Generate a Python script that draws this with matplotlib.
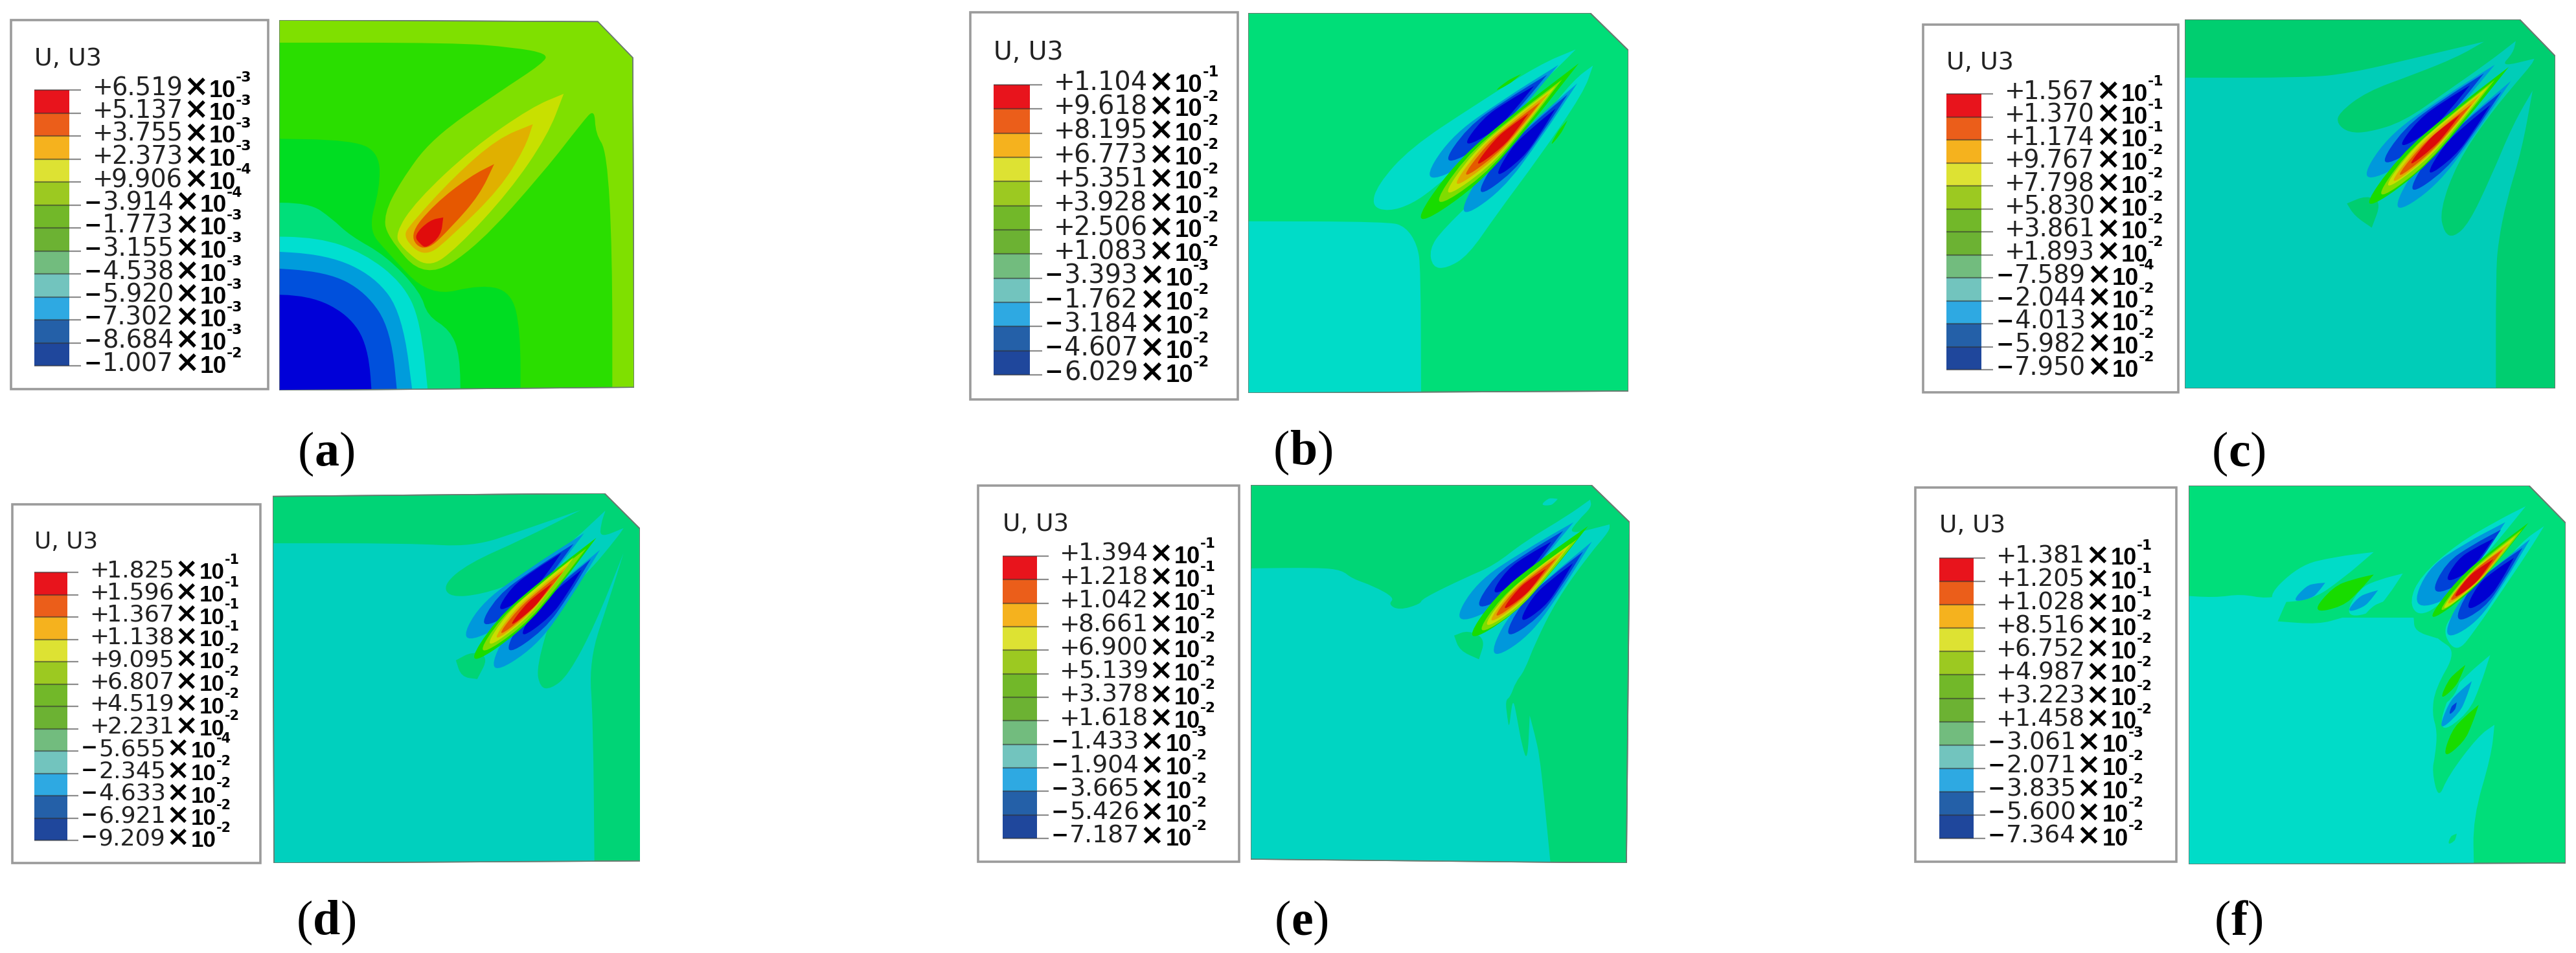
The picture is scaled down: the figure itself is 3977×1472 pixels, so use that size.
import matplotlib
matplotlib.use("Agg")
import matplotlib.pyplot as plt
import numpy as np
from matplotlib.path import Path
from matplotlib.patches import PathPatch, Rectangle, Polygon

W, H = 3977, 1472

# legend values
values_a = ['+6.519', '+5.137', '+3.755', '+2.373', '+9.906', '-3.914', '-1.773', '-3.155', '-4.538', '-5.920', '-7.302', '-8.684', '-1.007']
expo_a = [-3, -3, -3, -3, -4, -4, -3, -3, -3, -3, -3, -3, -2]
values_b = ['+1.104', '+9.618', '+8.195', '+6.773', '+5.351', '+3.928', '+2.506', '+1.083', '-3.393', '-1.762', '-3.184', '-4.607', '-6.029']
expo_b = [-1, -2, -2, -2, -2, -2, -2, -2, -3, -2, -2, -2, -2]
values_c = ['+1.567', '+1.370', '+1.174', '+9.767', '+7.798', '+5.830', '+3.861', '+1.893', '-7.589', '-2.044', '-4.013', '-5.982', '-7.950']
expo_c = [-1, -1, -1, -2, -2, -2, -2, -2, -4, -2, -2, -2, -2]
values_d = ['+1.825', '+1.596', '+1.367', '+1.138', '+9.095', '+6.807', '+4.519', '+2.231', '-5.655', '-2.345', '-4.633', '-6.921', '-9.209']
expo_d = [-1, -1, -1, -1, -2, -2, -2, -2, -4, -2, -2, -2, -2]
values_e = ['+1.394', '+1.218', '+1.042', '+8.661', '+6.900', '+5.139', '+3.378', '+1.618', '-1.433', '-1.904', '-3.665', '-5.426', '-7.187']
expo_e = [-1, -1, -1, -2, -2, -2, -2, -2, -3, -2, -2, -2, -2]
values_f = ['+1.381', '+1.205', '+1.028', '+8.516', '+6.752', '+4.987', '+3.223', '+1.458', '-3.061', '-2.071', '-3.835', '-5.600', '-7.364']
expo_f = [-1, -1, -1, -2, -2, -2, -2, -2, -3, -2, -2, -2, -2]

band_colors = ['#E8141C', '#EB5E1A', '#F5B21E', '#DDE233', '#9CC921', '#72B829', '#6CB233',
               '#72BC7E', '#72C4BE', '#2EA9E2', '#2460A8', '#1F479C']

# contour colours, deep blue to red; 3 and 4 change from panel to panel
levels = ['#0000D2', '#0042D8', '#0098DC', None, None, '#18DC00', '#80DC00', '#C8DE00', '#E0A800', '#E45A00', '#DC0A0A']

# outlines are in the frame they were read in (see limits in the panel tables)
plate_a = [(614, 63), (1315, 68), (1392, 183), (1395, 1233), (614, 1243)]
regions_a = [
    ('#7FE000', [(560, 0), (560, 0), (1500, 0), (1500, 0), (1500, 1300), (1500, 1300), (560, 1300), (560, 1300)]),
    ('#2ADE00', [(560, 135), (560, 135), (1000, 135), (1130, 150), (1205, 170), (1195, 200), (1100, 290), (950, 440), (880, 580), (845, 680), (850, 750), (935, 890), (1050, 785), (1200, 540), (1280, 390), (1308, 345), (1310, 425), (1335, 480), (1347, 800), (1347, 1300), (1347, 1300), (560, 1300), (560, 1300)]),
    ('#00DD22', [(560, 440), (560, 440), (780, 445), (835, 490), (835, 600), (810, 730), (850, 800), (945, 945), (1060, 905), (1125, 930), (1145, 1050), (1145, 1300), (1145, 1300), (560, 1300), (560, 1300)]),
    ('#00DF7A', [(560, 645), (560, 645), (680, 645), (730, 695), (770, 750), (850, 815), (925, 930), (940, 1005), (990, 1050), (1012, 1130), (1013, 1300), (1013, 1300), (560, 1300), (560, 1300)]),
    ('#00DFD0', [(560, 752), (560, 752), (700, 755), (800, 805), (885, 900), (925, 1020), (945, 1300), (945, 1300), (560, 1300), (560, 1300)]),
    ('#009CDC', [(560, 797), (560, 797), (720, 810), (825, 880), (885, 1000), (912, 1300), (912, 1300), (560, 1300), (560, 1300)]),
    ('#0050DC', [(560, 850), (560, 850), (720, 865), (805, 930), (860, 1050), (877, 1300), (877, 1300), (560, 1300), (560, 1300)]),
    ('#0000D8', [(560, 937), (560, 937), (680, 940), (765, 1000), (810, 1100), (820, 1300), (820, 1300), (560, 1300), (560, 1300)]),
    ('#C8E000', [(1240, 298), (1240, 298), (1170, 340), (1040, 470), (915, 640), (868, 745), (885, 790), (942, 855), (1005, 790), (1120, 610), (1205, 430)]),
    ('#E0B000', [(1172, 395), (1172, 395), (1095, 440), (1000, 560), (905, 710), (885, 755), (935, 822), (995, 750), (1100, 600), (1155, 470)]),
    ('#E65800', [(1087, 522), (1087, 522), (1035, 560), (955, 650), (898, 750), (935, 805), (995, 720), (1055, 620)]),
    ('#E00C0C', [(975, 692), (975, 692), (945, 700), (910, 750), (925, 778), (938, 790), (970, 750)]),
]

plate_b = [(-549, -90), (1035, -90), (1212, 84), (1212, 1671), (-549, 1680)]
regions_b = [
    (3, [(-600, 880), (-600, 880), (100, 882), (180, 905), (235, 990), (250, 1100), (252, 1700), (252, 1700), (-600, 1700), (-600, 1700)]),
    (3, [(968, 80), (968, 80), (800, 150), (500, 340), (200, 540), (50, 710), (22, 810), (100, 835), (210, 800), (320, 720), (430, 620), (600, 440), (890, 160)]),
    (3, [(1048, 155), (1048, 155), (960, 220), (800, 420), (600, 680), (350, 920), (290, 1010), (305, 1095), (370, 1100), (470, 1040), (600, 850), (800, 580), (1005, 280)]),
]
lobes_b = [
    (2, 280, 685, 888, 152, 72, .25), (1, 362, 610, 835, 198, 54, .3), (0, 450, 530, 775, 250, 38, .35),
    (2, 440, 850, 975, 238, 62, .25), (1, 515, 760, 930, 290, 48, .3), (0, 597, 675, 875, 355, 34, .35),
    (5, 225, 895, 982, 145, 70, .3), (6, 315, 810, 905, 220, 58, .3), (7, 355, 768, 875, 250, 48, .33),
    (8, 395, 728, 845, 282, 40, .36), (9, 440, 683, 805, 325, 31, .38), (10, 497, 630, 750, 378, 24, .45),
    (5, 592, 275, 715, 195, 8, .5), (5, 850, 530, 930, 410, 8, .5),
]

plate_c = [(-561, 15), (990, 15), (1155, 185), (1155, 1725), (-561, 1725)]
regions_c = [
    (3, [(-600, 285), (-600, 285), (0, 285), (200, 265), (500, 195), (825, 118), (825, 118), (700, 190), (500, 270), (280, 350), (150, 450), (145, 500), (200, 540), (290, 538), (450, 490), (650, 350), (850, 210), (972, 115), (972, 115), (960, 170), (900, 235), (1058, 197), (1058, 197), (1045, 225), (980, 300), (840, 470), (700, 680), (620, 900), (640, 1005), (685, 1025), (755, 960), (855, 750), (960, 500), (1050, 345), (1050, 345), (1000, 620), (930, 850), (890, 1050), (880, 1200), (880, 1760), (880, 1760), (-600, 1760), (-600, 1760)]),
    (4, [(190, 868), (190, 868), (280, 830), (350, 860), (305, 980), (305, 980), (225, 925)]),
]
lobes_c = [
    (2, 270, 755, 875, 225, 72, .25), (1, 350, 690, 825, 265, 55, .3), (0, 430, 610, 760, 320, 36, .35),
    (2, 415, 900, 950, 300, 62, .25), (1, 480, 820, 905, 350, 50, .3), (0, 560, 740, 855, 410, 34, .35),
    (5, 270, 892, 940, 235, 58, .3), (6, 330, 845, 875, 295, 48, .3), (7, 360, 805, 845, 325, 40, .33),
    (8, 385, 785, 810, 360, 32, .36), (9, 415, 755, 770, 405, 25, .38), (10, 470, 700, 715, 455, 20, .45),
]

plate_d = [(600, 58), (1330, 48), (1408, 165), (1410, 1263), (603, 1270)]
regions_d = [
    (3, [(560, 213), (560, 213), (900, 213), (1040, 225), (1150, 170), (1278, 103), (1278, 103), (1150, 200), (1030, 280), (975, 350), (990, 392), (1060, 382), (1140, 340), (1250, 220), (1332, 105), (1332, 105), (1322, 150), (1320, 195), (1372, 163), (1372, 163), (1360, 190), (1300, 300), (1220, 420), (1180, 620), (1188, 690), (1212, 695), (1250, 650), (1310, 480), (1372, 245), (1372, 245), (1340, 400), (1296, 600), (1305, 800), (1308, 1300), (1308, 1300), (560, 1300), (560, 1300)]),
    (4, [(1003, 600), (1003, 600), (1040, 570), (1075, 590), (1050, 662), (1050, 662), (1015, 655)]),
]
lobes_d = [
    (2, 1023, 535, 1285, 180, 42, .25), (1, 1060, 490, 1262, 215, 32, .3), (0, 1095, 440, 1235, 245, 22, .35),
    (2, 1085, 635, 1320, 235, 38, .25), (1, 1115, 578, 1300, 265, 29, .3), (0, 1145, 525, 1280, 300, 20, .35),
    (5, 1035, 610, 1312, 195, 32, .3), (6, 1055, 580, 1290, 230, 27, .3), (7, 1070, 558, 1262, 260, 22, .33),
    (8, 1085, 538, 1250, 285, 17, .36), (9, 1095, 522, 1240, 305, 13, .38), (10, 1120, 490, 1215, 345, 10, .45),
]

plate_e = [(-567, -33), (1010, -33), (1188, 140), (1173, 1719), (-567, 1701)]
regions_e = [
    (3, [(-600, 354), (-600, 354), (-250, 350), (-144, 362), (-100, 400), (0, 435), (100, 490), (70, 520), (120, 548), (220, 518), (225, 495), (430, 395), (560, 340), (700, 230), (900, 110), (1005, 35), (1005, 35), (1012, 70), (950, 130), (900, 200), (1095, 150), (1095, 150), (1095, 180), (1000, 290), (850, 500), (750, 700), (700, 830), (660, 880), (635, 950), (612, 965), (622, 1050), (630, 1095), (640, 1000), (650, 965), (665, 1040), (690, 1180), (715, 1250), (725, 1035), (725, 1035), (750, 1130), (770, 1220), (790, 1400), (825, 1760), (825, 1760), (-600, 1760), (-600, 1760)]),
    (4, [(375, 665), (375, 665), (440, 640), (520, 680), (490, 775), (490, 775), (400, 735)]),
]
lobes_e = [
    (3, 778, 60, 855, 32, 16, .5),
    (2, 390, 595, 928, 140, 72, .25), (1, 478, 540, 880, 180, 54, .3), (0, 550, 475, 825, 230, 38, .35),
    (2, 552, 760, 1013, 230, 64, .25), (1, 615, 672, 972, 276, 50, .3), (0, 680, 605, 925, 330, 35, .35),
    (5, 440, 685, 995, 158, 58, .3), (6, 487, 655, 945, 218, 46, .3), (7, 510, 632, 915, 240, 40, .33),
    (8, 530, 612, 885, 270, 33, .36), (9, 555, 588, 850, 305, 26, .38), (10, 595, 552, 800, 355, 21, .45),
]

plate_f = [(-543, 15), (1035, 15), (1205, 165), (1205, 1530), (-543, 1535)]
regions_f = [
    (3, [(-600, 455), (-600, 455), (-420, 465), (-300, 450), (-180, 470), (-70, 445), (-100, 500), (-130, 560), (-130, 560), (60, 572), (170, 545), (170, 545), (500, 545), (500, 545), (610, 630), (700, 680), (600, 830), (585, 930), (610, 1000), (600, 1100), (585, 1160), (615, 1275), (660, 1180), (800, 1020), (875, 975), (875, 975), (860, 1100), (775, 1350), (780, 1560), (780, 1560), (-600, 1560), (-600, 1560)]),
    (4, [(500, 540), (500, 540), (505, 600), (610, 628), (610, 628), (640, 540)]),
    (3, [(1020, 98), (1020, 98), (900, 150), (700, 250), (530, 380), (480, 480), (520, 540), (620, 500), (850, 280)]),
    (3, [(1105, 178), (1105, 178), (1000, 240), (850, 400), (700, 510), (630, 600), (700, 690), (790, 590), (900, 450), (1040, 270)]),
]
lobes_f = [
    (3, -180, 475, 315, 282, 70, .35), (2, -60, 480, 90, 405, 26, .5), (5, 38, 520, 315, 372, 42, .4),
    (3, 190, 535, 450, 368, 55, .35), (2, 192, 522, 335, 435, 22, .45), (4, 265, 545, 395, 470, 16, .4),
    (2, 510, 495, 925, 162, 75, .25), (1, 590, 445, 905, 192, 52, .3), (0, 648, 400, 870, 228, 34, .35),
    (2, 650, 622, 1040, 230, 58, .25), (1, 697, 560, 1005, 265, 50, .3), (0, 745, 515, 965, 305, 36, .35),
    (5, 565, 560, 1032, 165, 38, .35), (6, 605, 535, 1005, 190, 30, .4), (7, 620, 525, 975, 215, 26, .4),
    (8, 640, 505, 945, 245, 24, .42), (9, 655, 490, 915, 270, 22, .45), (10, 680, 470, 870, 310, 20, .45),
    (3, 625, 1000, 855, 695, 55, .35), (4, 590, 920, 740, 730, 38, .4), (5, 625, 872, 740, 735, 20, .45),
    (2, 620, 995, 770, 800, 30, .45), (1, 665, 935, 700, 885, 10, .5),
    (5, 640, 1105, 802, 895, 34, .4), (4, 660, 1455, 700, 1412, 12, .5),
]

# plate box x0, y0, x1, y1 in image pixels, data limits, colours 3 and 4
panels = [
    dict(box=(431, 31, 979, 603), xlim=(614, 1395), ylim=(1243, 63), plate=plate_a, regions=regions_a, lobes=[], cyan='#00DFD0', base='#7FE000',
         legend=(17, 31, 414, 601), bar=(53, 139, 107, 565), title_y=91, vals=values_a, exps=expo_a, cap='a', cap_xy=(504, 693)),
    dict(box=(1927, 20, 2514, 607), xlim=(-549, 1212), ylim=(1680, -90), plate=plate_b, regions=regions_b, lobes=lobes_b, cyan='#00DCC8', base='#00DE78',
         legend=(1498, 19, 1911, 617), bar=(1534, 131, 1590, 579), title_y=81, vals=values_b, exps=expo_b, cap='b', cap_xy=(2012, 691)),
    dict(box=(3373, 30, 3945, 600), xlim=(-561, 1155), ylim=(1725, 15), plate=plate_c, regions=regions_c, lobes=lobes_c, cyan='#00CDB8', base='#00CE70',
         legend=(2969, 38, 3363, 606), bar=(3005, 145, 3059, 571), title_y=97, vals=values_c, exps=expo_c, cap='c', cap_xy=(3457, 693)),
    dict(box=(421, 762, 988, 1333), xlim=(600, 1408), ylim=(1270, 48), plate=plate_d, regions=regions_d, lobes=lobes_d, cyan='#00D0BE', base='#00D476',
         legend=(19, 779, 402, 1333), bar=(53, 884, 104, 1298), title_y=837, vals=values_d, exps=expo_d, cap='d', cap_xy=(504, 1417)),
    dict(box=(1931, 749, 2516, 1333), xlim=(-567, 1188), ylim=(1719, -33), plate=plate_e, regions=regions_e, lobes=lobes_e, cyan='#00D5C2', base='#00D676',
         legend=(1510, 750, 1913, 1331), bar=(1548, 859, 1601, 1295), title_y=810, vals=values_e, exps=expo_e, cap='e', cap_xy=(2010, 1417)),
    dict(box=(3379, 750, 3961, 1335), xlim=(-543, 1205), ylim=(1535, 15), plate=plate_f, regions=regions_f, lobes=lobes_f, cyan='#00DCC8', base='#00DE7A',
         legend=(2957, 753, 3360, 1331), bar=(2994, 862, 3047, 1295), title_y=812, vals=values_f, exps=expo_f, cap='f', cap_xy=(3457, 1417)),
]

cap_width = {'a': .5, 'b': .556, 'c': .444, 'd': .556, 'e': .444, 'f': .333}


def px(v):
    return v * 0.72


def blob(points):
    # closed quadratic spline through midpoints, a doubled point stays sharp
    p = np.array(points, dtype=float)
    mids = (p + np.roll(p, -1, axis=0)) / 2
    verts = [mids[-1]]
    codes = [Path.MOVETO]
    for i in range(len(p)):
        verts += [p[i], mids[i]]
        codes += [Path.CURVE3, Path.CURVE3]
    return Path(verts, codes)


def lens_points(ax0, ay0, bx, by, w, f):
    a, b = np.array([ax0, ay0], float), np.array([bx, by], float)
    d = b - a
    n = np.array([-d[1], d[0]]) / np.hypot(*d)
    a2 = a - d * 0.05
    p1 = a + d * f
    p2 = a + d * (f + 1) / 2
    return [a2, p1 + n * w * 1.1, p2 + n * w * .68, b, b, p2 - n * w * .68, p1 - n * w * 1.1]


fig = plt.figure(figsize=(W / 100, H / 100), dpi=100, facecolor='white')
ax = fig.add_axes([0, 0, 1, 1])
ax.set_xlim(0, W)
ax.set_ylim(H, 0)
ax.axis('off')

for pn in panels:
    # contour plate
    x0, y0, x1, y1 = pn['box']
    pax = fig.add_axes([x0 / W, 1 - y1 / H, (x1 - x0) / W, (y1 - y0) / H])
    pax.set_xlim(*pn['xlim'])
    pax.set_ylim(*pn['ylim'])
    pax.axis('off')
    plate = Polygon(pn['plate'], closed=True, facecolor=pn['base'], edgecolor='#6a7a70', lw=1.2)
    pax.add_patch(plate)
    colors = list(levels)
    colors[3] = pn['cyan']
    colors[4] = pn['base']
    for lev, pts in pn['regions']:
        col = lev if isinstance(lev, str) else colors[lev]
        patch = PathPatch(blob(pts), facecolor=col, edgecolor='none', lw=0)
        pax.add_patch(patch)
        patch.set_clip_path(plate)
    for lev, a0, a1, b0, b1, w, f in pn['lobes']:
        patch = PathPatch(blob(lens_points(a0, a1, b0, b1, w, f)), facecolor=colors[lev], edgecolor='none', lw=0)
        pax.add_patch(patch)
        patch.set_clip_path(plate)
    edge = Polygon(pn['plate'], closed=True, facecolor='none', edgecolor='#6a7a70', lw=1.2)
    pax.add_patch(edge)

    # legend
    lx0, ly0, lx1, ly1 = pn['legend']
    ax.add_patch(Rectangle((lx0, ly0), lx1 - lx0, ly1 - ly0, facecolor='white', edgecolor='#9b9b9b', lw=2.6))
    bx0, by0, bx1, by1 = pn['bar']
    s = (bx1 - bx0) / 54
    step = (by1 - by0) / 12
    ax.text(bx0, pn['title_y'], 'U, U3', fontsize=px(38 * s), color='#222222', ha='left', va='center', family='DejaVu Sans')
    for i, col in enumerate(band_colors):
        ax.bar(bx0, step, width=bx1 - bx0, bottom=by0 + i * step, align='edge', color=col, edgecolor='none')
    for i in range(13):
        ty = by0 + i * step
        ax.plot([bx0, bx1], [ty, ty], color='#303030', alpha=.55, lw=1.6, solid_capstyle='butt')
        ax.plot([bx1, bx1 + 18 * s], [ty, ty], color='#8c8c8c', lw=1.6, solid_capstyle='butt')
        val, ex = pn['vals'][i], pn['exps'][i]
        if val[0] == '+':
            shift = 0
            ax.text(bx1 + 36 * s, ty - 3, '+', fontsize=px(38 * s), color='#222222', ha='left', va='center')
        else:
            shift = -14 * s
            ax.text(bx1 + 22 * s, ty - 4, '\u2212', fontsize=px(33 * s), color='black', ha='left', va='center', weight='bold')
        ax.text(bx1 + (65 * s + shift), ty - 3, val[1:], fontsize=px(38.5 * s), color='#222222', ha='left', va='center')
        ax.text(bx1 + (195 * s + shift), ty - 4, '\u00d7', fontsize=px(46 * s), color='black', ha='center', va='center', weight='bold')
        ax.text(bx1 + (216 * s + shift), ty + 1, '10', fontsize=px(37 * s), color='black', ha='left', va='center', weight='bold', family='Liberation Sans')
        ax.text(bx1 + (257 * s + shift), ty - 19, str(ex), fontsize=px(22 * s), color='black', ha='left', va='center', weight='bold')

    # caption
    cx, cy = pn['cap_xy']
    em = 76
    half = cap_width[pn['cap']] * em / 2
    ax.text(cx, cy, pn['cap'], fontsize=px(em), family='Liberation Serif', weight='bold', ha='center', va='center_baseline')
    ax.text(cx - half, cy, '(', fontsize=px(em), family='Liberation Serif', ha='right', va='center_baseline')
    ax.text(cx + half, cy, ')', fontsize=px(em), family='Liberation Serif', ha='left', va='center_baseline')

fig.savefig('out.png', dpi=100, facecolor='white')
